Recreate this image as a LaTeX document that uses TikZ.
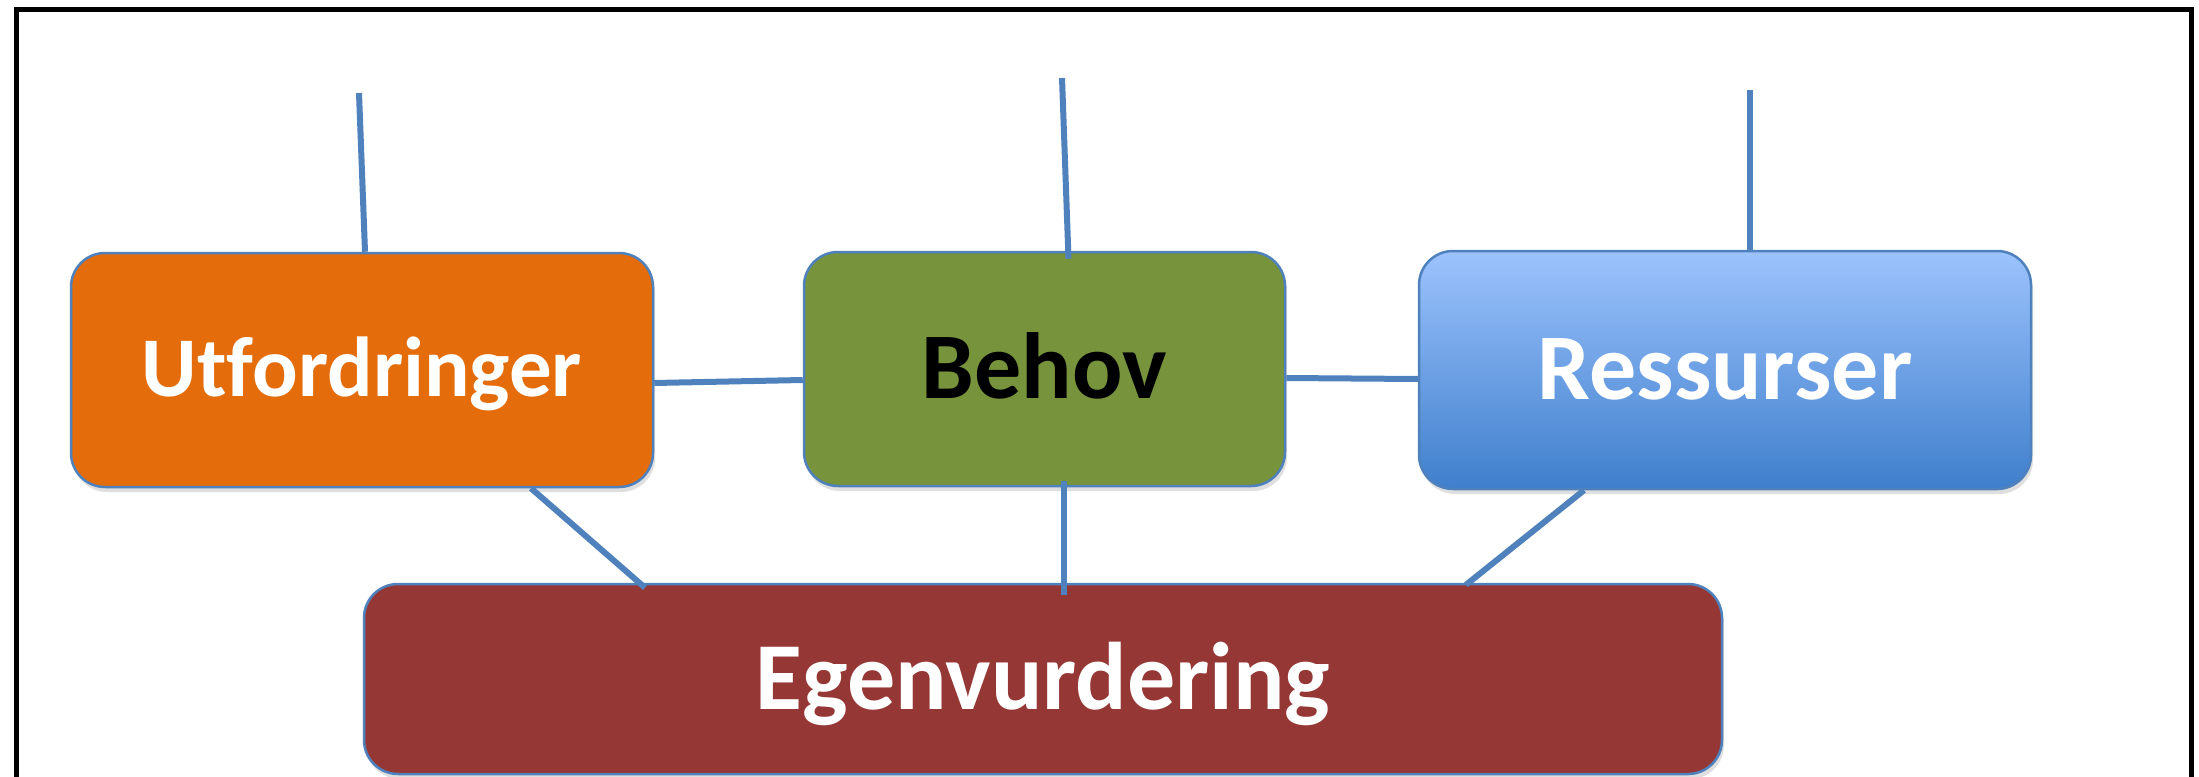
\documentclass[tikz,border=0pt]{standalone}
\usepackage{fontspec}
\setmainfont{Carlito}
\usetikzlibrary{shadows}
\definecolor{lineblue}{HTML}{4F81BD}
\definecolor{orangeF}{HTML}{E46C0A}
\definecolor{greenF}{HTML}{77933C}
\definecolor{redF}{HTML}{953735}
\definecolor{blueTop}{HTML}{9CC3FD}
\definecolor{blueBot}{HTML}{3F7FCC}
\begin{document}
\begin{tikzpicture}[x=1pt,y=-1pt,
  box/.style={draw=lineblue, line width=2.5pt, rounded corners=34pt, inner sep=0pt,
    text depth=0pt,
    drop shadow={opacity=0.25,shadow xshift=2pt,shadow yshift=-5pt}},
  conn/.style={draw=lineblue, line width=6pt}]
\useasboundingbox (0,0) rectangle (2199,776);
\fill[white] (0,0) rectangle (2199,776);
\draw[line width=5pt] (16,10) rectangle (2191,840);
\node[box, fill=orangeF, text=white, minimum width=582pt, minimum height=234pt,
  text height=53.7pt, font=\fontsize{85}{100}\selectfont\bfseries] (utf) at (362,370) {Ut\kern0pt fordringer};
\node[box, fill=greenF, text=black, minimum width=481pt, minimum height=234pt,
  text height=59.4pt, font=\fontsize{94}{110}\selectfont\bfseries] (beh) at (1044.5,369) {Behov};
\node[box, top color=blueTop, bottom color=blueBot, text=white, minimum width=612pt, minimum height=238pt,
  text height=59.4pt, font=\fontsize{94}{110}\selectfont\bfseries] (res) at (1725,370) {Ressurser};
\node[box, fill=redF, text=white, minimum width=1358pt, minimum height=190pt,
  text height=60.7pt, font=\fontsize{96}{110}\selectfont\bfseries] (egen) at (1043,679) {Egenvurdering};
\coordinate (ut) at (359,93);
\coordinate (bt) at (1062,78);
\coordinate (rt) at (1750,90);
\draw[conn] (ut) -- ([xshift=3pt]utf.north);
\draw[conn] (bt) -- ([xshift=24pt,yshift=-8pt]beh.north);
\draw[conn] (rt) -- ([xshift=25pt]res.north);
\draw[conn] ([yshift=-13pt]utf.east) -- ([yshift=-11pt]beh.west);
\draw[conn] ([yshift=-9pt]beh.east) -- ([yshift=-9pt]res.west);
\draw[conn] ([xshift=169pt]utf.south) -- ([xshift=-398pt,yshift=-5pt]egen.north);
\draw[conn] ([xshift=19.5pt,yshift=6pt]beh.south) -- ([xshift=21pt,yshift=-12pt]egen.north);
\draw[conn] ([xshift=-141pt]res.south) -- ([xshift=423pt,yshift=-2pt]egen.north);
\end{tikzpicture}
\end{document}
